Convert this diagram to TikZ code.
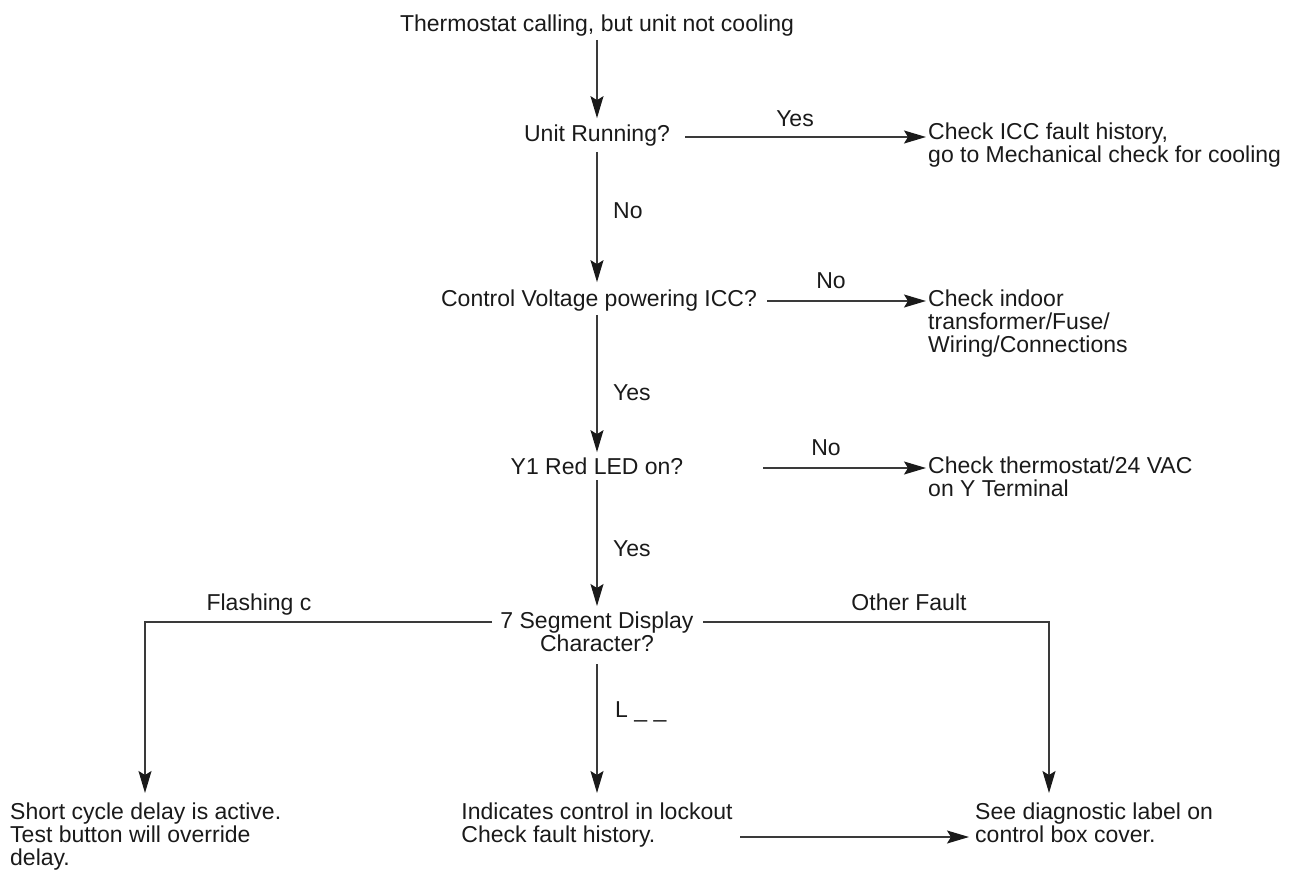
\documentclass[tikz,border=0pt]{standalone}
\usepackage{fontspec}
\setmainfont{Liberation Sans}
\usetikzlibrary{arrows.meta}
\definecolor{ink}{HTML}{1A1A1A}
\definecolor{wire}{HTML}{3A3A3A}
\tikzset{
  txt/.style={inner sep=0pt, align=left, text=ink, font=\fontsize{23}{23}\selectfont},
  lbl/.style={inner sep=0pt, text=ink, font=\fontsize{23}{23}\selectfont},
  conn/.style={draw=wire, line width=1.3pt},
  arr/.style={conn, -{Stealth[length=22pt,width=13pt,inset=4pt,color=ink]}},
}
\begin{document}
\begin{tikzpicture}[x=1pt,y=-1pt]
\useasboundingbox (0,0) rectangle (1295,873);
% question nodes
\node[txt, anchor=base] (title) at (597,31) {Thermostat calling, but unit not cooling};
\node[txt, anchor=base] (run) at (597,141) {Unit Running?};
\node[txt, anchor=base] (volt) at (599,306) {Control Voltage powering ICC?};
\node[txt, anchor=base] (y1) at (597,474) {Y1 Red LED on?};
\node[txt, align=center, anchor=north] (seg) at (597,612) {7 Segment Display\\Character?};
% result nodes
\node[txt, anchor=north west] (icc) at (928,123) {Check ICC fault history,\\go to Mechanical check for cooling};
\node[txt, anchor=north west] (indoor) at (928,290) {Check indoor\\transformer/Fuse/\\Wiring/Connections};
\node[txt, anchor=north west] (therm) at (928,457) {Check thermostat/24 VAC\\on Y Terminal};
\node[txt, anchor=north west] (short) at (10,803) {Short cycle delay is active.\\Test button will override\\delay.};
\node[txt, anchor=north] (lock) at (597,803) {Indicates control in lockout\\Check fault history.};
\node[txt, anchor=north west] (see) at (975,803) {See diagnostic label on\\control box cover.};
% helper coordinates
\coordinate (ra) at (685,137);
\coordinate (va) at (767,301);
\coordinate (ya) at (763,468);
\coordinate (sl) at (492,622);
\coordinate (cl) at (145,622);
\coordinate (cle) at (145,793);
\coordinate (sr) at (703,622);
\coordinate (cr) at (1049,622);
\coordinate (cre) at (1049,793);
\coordinate (ba) at (740,837);
% vertical connectors
\draw[arr] ([yshift=-4pt]title.south) -- ([yshift=6pt]title.south |- run.north);
\draw[arr] ([yshift=-6pt]run.south) -- ([yshift=7pt]run.south |- volt.north);
\draw[arr] ([yshift=-4pt]run.south |- volt.south) -- ([yshift=5pt]run.south |- y1.north);
\draw[arr] ([yshift=-6pt]y1.south) -- ([yshift=6pt]y1.south |- seg.north);
\draw[arr] ([yshift=-12pt]seg.south) -- ([yshift=10pt]seg.south |- lock.north);
% horizontal connectors
\draw[arr, shorten >=2pt] (ra) -- (ra -| icc.west);
\draw[arr, shorten >=2pt] (va) -- (va -| indoor.west);
\draw[arr, shorten >=2pt] (ya) -- (ya -| therm.west);
\draw[arr] (sl) -- (cl) -- (cle);
\draw[arr] (sr) -- (cr) -- (cre);
\draw[arr, shorten >=6pt] (ba) -- (ba -| see.west);
% labels
\node[lbl, anchor=base] (lyes1) at (795,126) {Yes};
\node[lbl, anchor=base west] (lno1) at (613,218) {No};
\node[lbl, anchor=base] (lno2) at (831,288) {No};
\node[lbl, anchor=base west] (lyes2) at (613,400) {Yes};
\node[lbl, anchor=base] (lno3) at (826,455) {No};
\node[lbl, anchor=base west] (lyes3) at (613,556) {Yes};
\node[lbl, anchor=base] (lflash) at (259,610) {Flashing c};
\node[lbl, anchor=base] (lother) at (909,610) {Other Fault};
\node[lbl, anchor=base west] (lL) at (615,717) {L \_ \_};
\end{tikzpicture}
\end{document}
